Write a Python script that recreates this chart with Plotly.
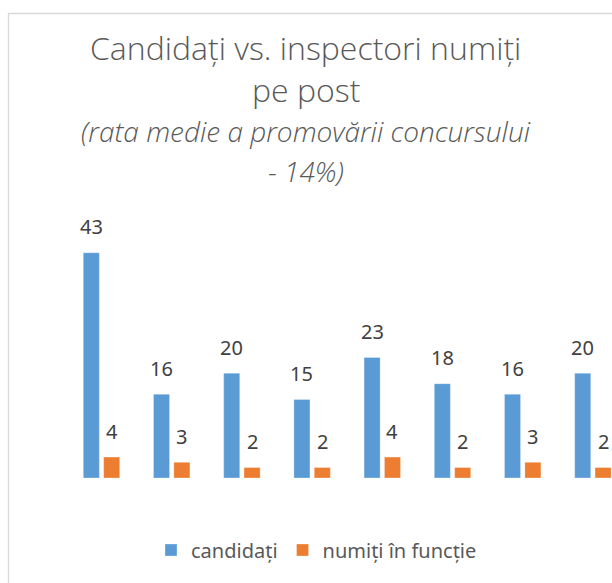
import plotly.graph_objects as go

# ---- data ----
categories = [1, 2, 3, 4, 5, 6, 7, 8]
candidati = [43, 16, 20, 15, 23, 18, 16, 20]
numiti = [4, 3, 2, 2, 4, 2, 3, 2]
series_names = ["candidați", "numiți în funcție"]
title_lines = ["Candidați vs. inspectori numiți", "pe post"]
subtitle_lines = ["(rata medie a promovării concursului", "- 14%)"]

W, H = 612, 583
ML, MR, MT, MB = 9, 0, 216, 105
PLOT_W = W - ML - MR
PLOT_H = H - MT - MB
PX_PER_CAT = 70.2
FIRST_CENTER_PX = 101.5


def px_x(px):
    return (px - ML) / PLOT_W


def px_y(py):
    return (H - MB - py) / PLOT_H


xs = list(range(len(categories)))
x0 = -(FIRST_CENTER_PX - ML) / PX_PER_CAT
x1 = x0 + PLOT_W / PX_PER_CAT

BLUE = "#5B9BD5"
ORANGE = "#ED7D31"
TXT = "#595959"
LBL = "#404040"
FONT = "Noto Sans"

fig = go.Figure()
fig.add_trace(go.Bar(x=xs, y=candidati, name=series_names[0],
                     marker=dict(color=BLUE, line=dict(color="rgba(255,255,255,0.6)", width=0.5))))
fig.add_trace(go.Bar(x=xs, y=numiti, name=series_names[1],
                     marker=dict(color=ORANGE, line=dict(color="rgba(255,255,255,0.6)", width=0.5))))

bargap = 0.42
bargroupgap = 0.21
slot = (1 - bargap) / 2
annotations = []
for i, (a, b) in enumerate(zip(candidati, numiti)):
    for val, off in ((a, -slot / 2), (b, slot / 2)):
        annotations.append(dict(x=xs[i] + off, y=val, xref="x", yref="y", text=str(val),
                                showarrow=False, yshift=26, yanchor="middle",
                                font=dict(family=FONT, size=20, color=LBL)))

# title lines
title_cx = px_x(305.5)
for txt, cy in zip(title_lines, (47, 89)):
    annotations.append(dict(x=title_cx, y=px_y(cy), xref="paper", yref="paper",
                            text=txt, showarrow=False, xanchor="center", yanchor="middle",
                            font=dict(family="Open Sans", size=32, color=TXT, weight=300)))
for txt, cy in zip(subtitle_lines, (131, 171)):
    annotations.append(dict(x=title_cx, y=px_y(cy), xref="paper", yref="paper",
                            text=txt, showarrow=False, xanchor="center",
                            yanchor="middle",
                            font=dict(family="Open Sans", size=28, color=TXT, weight=300,
                                      style="italic")))

fig.update_layout(
    width=W, height=H,
    margin=dict(l=ML, r=MR, t=MT, b=MB, pad=0),
    paper_bgcolor="white", plot_bgcolor="white",
    barmode="group", bargap=bargap, bargroupgap=bargroupgap,
    xaxis=dict(range=[x0, x1], showticklabels=False, showgrid=False, zeroline=False,
               showline=False, ticks=""),
    yaxis=dict(range=[0, 50], showticklabels=False, showgrid=False, zeroline=False,
               showline=False, ticks=""),
    showlegend=True,
    legend=dict(orientation="h", xref="container", yref="container",
                x=151 / W, xanchor="left", y=1 - 550 / H, yanchor="middle",
                font=dict(family=FONT, size=20, color=TXT),
                itemwidth=30, bgcolor="rgba(0,0,0,0)"),
    annotations=annotations,
    shapes=[dict(type="path", xref="paper", yref="paper",
                 path=f"M {px_x(8.5)},{px_y(H + 5)} L {px_x(8.5)},{px_y(13.5)} L {px_x(W + 5)},{px_y(13.5)}",
                 line=dict(color="#D9D9D9", width=1.3))],
)

fig.write_html("out.html", config={"displayModeBar": False},
               post_script="document.body.style.margin='0';document.body.style.overflow='hidden';")
